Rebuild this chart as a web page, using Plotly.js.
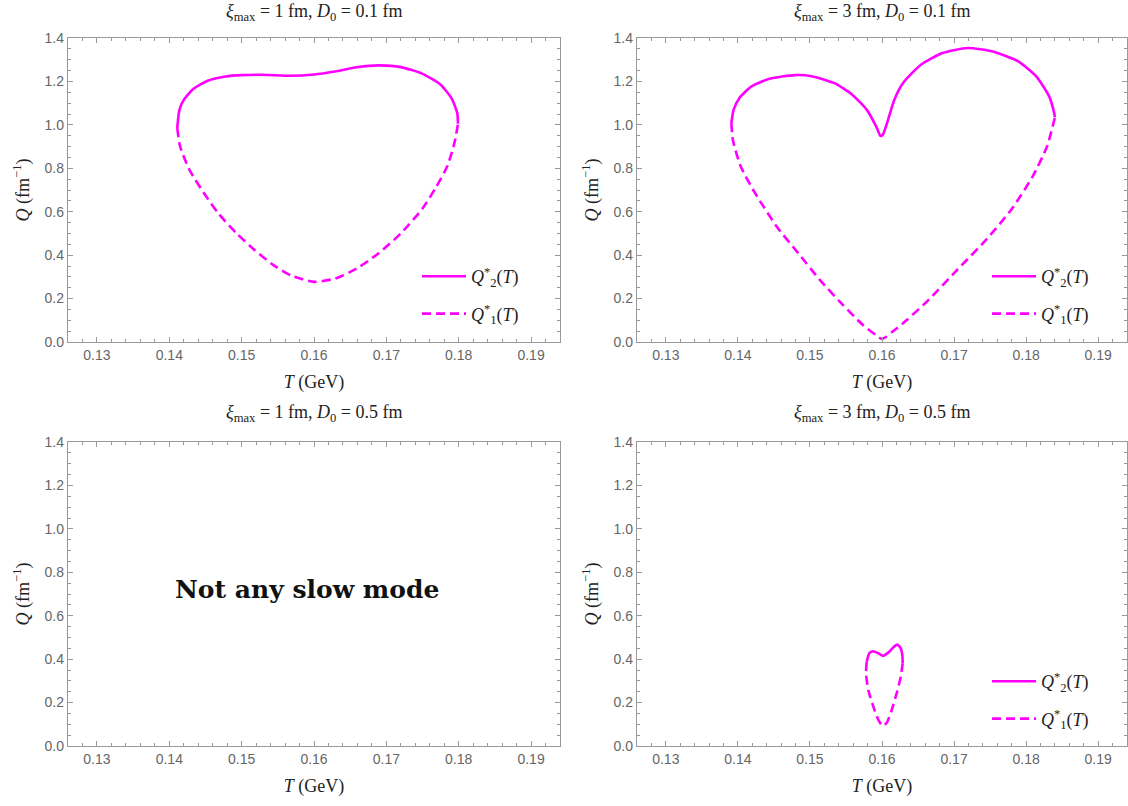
<!DOCTYPE html>
<html>
<head>
<meta charset="utf-8">
<script src="https://cdn.plot.ly/plotly-3.0.1.min.js"></script>
<style>html,body{margin:0;padding:0;background:#fff;}#chart{width:1128px;height:806px;}</style>
</head>
<body>
<div id="chart"></div>
<script>
// Panel titles
const panelTitles = [
  "<i>ξ</i><sub>max</sub> = 1 fm, <i>D</i><sub>0</sub> = 0.1 fm",
  "<i>ξ</i><sub>max</sub> = 3 fm, <i>D</i><sub>0</sub> = 0.1 fm",
  "<i>ξ</i><sub>max</sub> = 1 fm, <i>D</i><sub>0</sub> = 0.5 fm",
  "<i>ξ</i><sub>max</sub> = 3 fm, <i>D</i><sub>0</sub> = 0.5 fm"
];
const xTickVals = [0.13, 0.14, 0.15, 0.16, 0.17, 0.18, 0.19];
const yTickVals = [0.0, 0.2, 0.4, 0.6, 0.8, 1.0, 1.2, 1.4];
const nameQ2 = "<i>Q</i><sup>*</sup><sub>2</sub>(<i>T</i>)";
const nameQ1 = "<i>Q</i><sup>*</sup><sub>1</sub>(<i>T</i>)";
const noModeText = "<b>Not any slow mode</b>";

// Panel 1: xi_max = 1 fm, D0 = 0.1 fm
const p1_T2 = [0.1411, 0.1414, 0.1420, 0.1433, 0.1453, 0.1478, 0.1500, 0.1529, 0.1568, 0.1600, 0.1629, 0.1659, 0.1689, 0.1720, 0.1750, 0.1775, 0.1790, 0.1798, 0.1799];
const p1_Q2 = [0.985, 1.069, 1.115, 1.165, 1.203, 1.223, 1.229, 1.231, 1.226, 1.232, 1.246, 1.265, 1.274, 1.266, 1.235, 1.185, 1.123, 1.054, 1.005];
const p1_T1 = [0.1411, 0.1415, 0.1428, 0.1448, 0.1468, 0.1493, 0.1518, 0.1544, 0.1569, 0.1600, 0.1629, 0.1659, 0.1689, 0.1720, 0.1750, 0.1769, 0.1784, 0.1794, 0.1799];
const p1_Q1 = [0.985, 0.900, 0.792, 0.685, 0.592, 0.500, 0.423, 0.354, 0.305, 0.277, 0.292, 0.338, 0.408, 0.500, 0.615, 0.715, 0.808, 0.915, 1.005];

// Panel 2: xi_max = 3 fm, D0 = 0.1 fm
const p2_T2 = [0.1391, 0.1394, 0.1402, 0.1419, 0.1444, 0.1479, 0.1504, 0.1534, 0.1559, 0.1579, 0.1592, 0.1598, 0.1601, 0.1607, 0.1617, 0.1629, 0.1654, 0.1684, 0.1719, 0.1754, 0.1789, 0.1814, 0.1832, 0.1839, 0.1840];
const p2_Q2 = [1.008, 1.069, 1.123, 1.177, 1.212, 1.229, 1.223, 1.192, 1.138, 1.069, 0.992, 0.949, 0.954, 1.008, 1.115, 1.192, 1.277, 1.331, 1.354, 1.338, 1.292, 1.223, 1.131, 1.054, 1.035];
const p2_T1 = [0.1391, 0.1393, 0.1404, 0.1424, 0.1454, 0.1484, 0.1514, 0.1544, 0.1574, 0.1592, 0.1599, 0.1604, 0.1614, 0.1634, 0.1664, 0.1704, 0.1744, 0.1779, 0.1809, 0.1829, 0.1838, 0.1840];
const p2_Q1 = [1.008, 0.931, 0.808, 0.685, 0.531, 0.408, 0.285, 0.177, 0.077, 0.031, 0.015, 0.020, 0.046, 0.100, 0.192, 0.331, 0.469, 0.608, 0.762, 0.900, 1.008, 1.035];

// Panel 4: xi_max = 3 fm, D0 = 0.5 fm
const p4_T2 = [0.15788, 0.15824, 0.15871, 0.15949, 0.16010, 0.16087, 0.16166, 0.16212, 0.16260, 0.16282, 0.16287];
const p4_Q2 = [0.388, 0.427, 0.436, 0.427, 0.415, 0.430, 0.457, 0.467, 0.450, 0.419, 0.381];
const p4_T1 = [0.15788, 0.15778, 0.15810, 0.15880, 0.15950, 0.16010, 0.16066, 0.16135, 0.16204, 0.16260, 0.16287];
const p4_Q1 = [0.388, 0.335, 0.258, 0.181, 0.120, 0.092, 0.107, 0.166, 0.243, 0.319, 0.381];

const MAG = "#ff00ff";
const solid = {color: MAG, width: 2.6, shape: "spline", smoothing: 0.6};
const dashed = {color: MAG, width: 2.6, dash: "9px,5px", shape: "spline", smoothing: 0.6};

function pair(T2, Q2, T1, Q1, xa, ya, lg) {
  return [
    {x: T2, y: Q2, xaxis: xa, yaxis: ya, mode: "lines", line: solid, name: nameQ2, legend: lg, legendgroup: lg + "a", hoverinfo: "x+y"},
    {x: T1, y: Q1, xaxis: xa, yaxis: ya, mode: "lines", line: dashed, name: nameQ1, legend: lg, legendgroup: lg + "b", hoverinfo: "x+y"}
  ];
}

const data = [].concat(
  pair(p1_T2, p1_Q2, p1_T1, p1_Q1, "x", "y", "legend"),
  pair(p2_T2, p2_Q2, p2_T1, p2_Q1, "x2", "y2", "legend2"),
  [{x: [], y: [], xaxis: "x3", yaxis: "y3", mode: "lines", showlegend: false}],
  pair(p4_T2, p4_Q2, p4_T1, p4_Q1, "x4", "y4", "legend3")
);

const W = 1128, H = 806;
const FRAME = "#9a9a9a";
const TICKFONT = {family: "Liberation Sans, Arial, sans-serif", size: 14, color: "#666666"};
const SERIF = "Liberation Serif, Times New Roman, serif";

function xax(domain, anchor) {
  return {
    domain: domain, anchor: anchor, range: [0.126, 0.194],
    tickmode: "array", tickvals: xTickVals, ticktext: xTickVals.map(v => v.toFixed(2)),
    ticks: "inside", ticklen: 5, tickcolor: FRAME, tickwidth: 1,
    minor: {dtick: 0.002, tick0: 0.13, ticks: "inside", ticklen: 3, tickcolor: FRAME, tickwidth: 1, showgrid: false},
    showline: true, linecolor: FRAME, linewidth: 1.2, mirror: "allticks",
    showgrid: false, zeroline: false, tickfont: TICKFONT, fixedrange: true,
    title: {text: "<i>T</i> (GeV)", font: {family: SERIF, size: 18, color: "#222"}, standoff: 13}
  };
}
function yax(domain, anchor) {
  return {
    domain: domain, anchor: anchor, range: [0, 1.4],
    tickmode: "array", tickvals: yTickVals, ticktext: yTickVals.map(v => v.toFixed(1)),
    ticks: "inside", ticklen: 5, tickcolor: FRAME, tickwidth: 1,
    minor: {dtick: 0.05, tick0: 0, ticks: "inside", ticklen: 3, tickcolor: FRAME, tickwidth: 1, showgrid: false},
    showline: true, linecolor: FRAME, linewidth: 1.2, mirror: "allticks",
    showgrid: false, zeroline: false, tickfont: TICKFONT, fixedrange: true,
    title: {text: "<i>Q</i> (fm<sup>−1</sup>)", font: {family: SERIF, size: 18, color: "#222"}, standoff: 10}
  };
}

const xL = [68 / W, 560 / W], xR = [637 / W, 1127 / W];
const yT = [(H - 342) / H, (H - 38) / H], yB = [(H - 746) / H, (H - 442) / H];

function legendAt(px, py) {
  return {
    x: px / W, y: 1 - py / H, xanchor: "left", yanchor: "top",
    bgcolor: "rgba(0,0,0,0)", borderwidth: 0,
    font: {family: SERIF, size: 18, color: "#222"},
    traceorder: "grouped", tracegroupgap: 11, itemwidth: 44
  };
}

const titleFont = {family: SERIF, size: 18, color: "#222"};
function panelTitle(text, cx, py) {
  return {text: text, x: cx, y: 1 - py / H, xref: "paper", yref: "paper", showarrow: false,
          font: titleFont, xanchor: "center", yanchor: "middle"};
}
const annotations = [
  panelTitle(panelTitles[0], (xL[0] + xL[1]) / 2, 12),
  panelTitle(panelTitles[1], (xR[0] + xR[1]) / 2, 12),
  panelTitle(panelTitles[2], (xL[0] + xL[1]) / 2, 413),
  panelTitle(panelTitles[3], (xR[0] + xR[1]) / 2, 413),
  {text: noModeText, x: 0.159, y: 0.72, xref: "x3", yref: "y3", showarrow: false, xanchor: "center",
   font: {family: "DejaVu Serif, serif", size: 25, color: "#111"}}
];

const layout = {
  width: W, height: H,
  margin: {l: 0, r: 0, t: 0, b: 0},
  paper_bgcolor: "#fff", plot_bgcolor: "#fff",
  showlegend: true,
  xaxis: xax(xL, "y"), yaxis: yax(yT, "x"),
  xaxis2: xax(xR, "y2"), yaxis2: yax(yT, "x2"),
  xaxis3: xax(xL, "y3"), yaxis3: yax(yB, "x3"),
  xaxis4: xax(xR, "y4"), yaxis4: yax(yB, "x4"),
  legend: legendAt(417, 258),
  legend2: legendAt(987, 258),
  legend3: legendAt(987, 663),
  annotations: annotations
};

Plotly.newPlot("chart", data, layout, {displayModeBar: false, staticPlot: true});
</script>
</body>
</html>
